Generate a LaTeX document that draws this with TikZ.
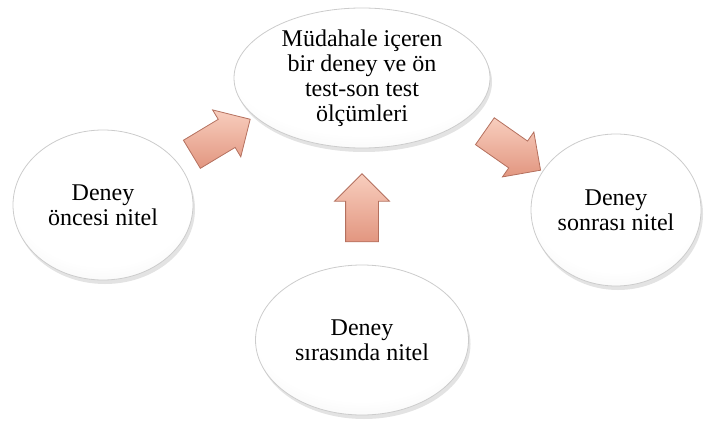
\documentclass[tikz,border=0pt]{standalone}
\usepackage{fontspec}
\setmainfont{Liberation Serif}
\usepackage{tikz}
\usetikzlibrary{positioning,shapes.geometric,shapes.arrows,shadows}
\definecolor{arrowlight}{RGB}{248,206,190}
\definecolor{arrowdark}{RGB}{226,150,128}
\definecolor{arrowedge}{RGB}{180,112,94}
\pgfdeclareradialshading{ovalshade}{\pgfpoint{0bp}{10bp}}{color(0bp)=(white);
  color(26bp)=(white); color(44bp)=(gray!18); color(60bp)=(gray!45)}

\begin{document}
\begin{tikzpicture}[node distance=60pt,on grid,
    oval/.style={ellipse,draw=gray!40,thin,inner sep=0pt,align=center,
      font=\fontsize{12}{12.5}\selectfont,shading=ovalshade,
      drop shadow={opacity=0.22,shadow xshift=1pt,shadow yshift=-2pt}},
    blockarrow/.style={single arrow,draw=arrowedge,thin,inner xsep=0pt,inner ysep=8pt,
      minimum height=34pt,single arrow head extend=5.5pt,
      top color=arrowlight,bottom color=arrowdark}]
    \useasboundingbox (0,0) rectangle (352pt,211.5pt);
    \node[oval,minimum width=128pt,minimum height=70pt] (main) at (181pt,172.5pt)
      {Müdahale içeren\\bir deney ve ön\\test-son test\\ölçümleri};
    \node[oval,minimum width=90pt,minimum height=75pt] (pre)
      [below left=63.5pt and 129.5pt of main] {Deney\\öncesi nitel};
    \node[oval,minimum width=85pt,minimum height=76pt] (post)
      [below right=66pt and 127pt of main] {Deney\\sonrası nitel};
    \node[oval,minimum width=106.5pt,minimum height=75pt] (during)
      [below=131pt of main] {Deney\\sırasında nitel};
    \node[blockarrow,rotate=31] (a1) [below left=31.5pt and 74pt of main] {};
    \node[blockarrow,rotate=-35] (a2) [below right=34pt and 72pt of main] {};
    \node[blockarrow,rotate=90] (a3) [above=62pt of during] {};
  \end{tikzpicture}
\end{document}
